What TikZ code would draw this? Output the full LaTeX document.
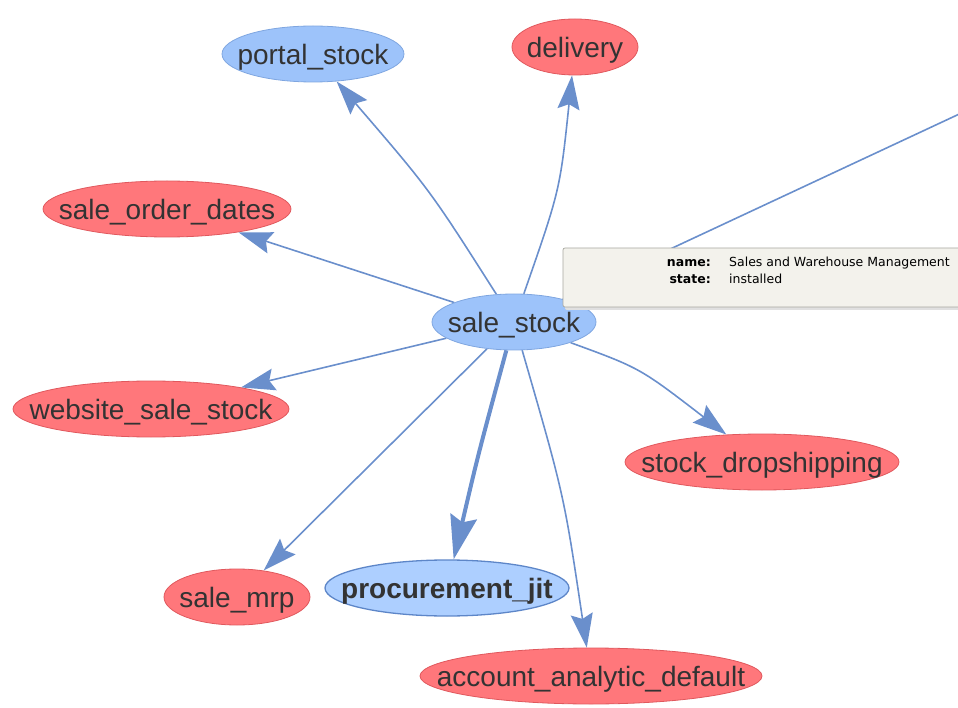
\documentclass[tikz,border=0pt]{standalone}
\usepackage{fontspec}
\setmainfont{Liberation Sans}
\newfontfamily\tipfont{DejaVu Sans}
\usetikzlibrary{shapes.geometric,arrows.meta,backgrounds}
\definecolor{edgec}{HTML}{6A8FCC}
\definecolor{bluef}{HTML}{9DC3FA}
\definecolor{blued}{HTML}{7FA6E0}
\definecolor{redf}{HTML}{FF777B}
\definecolor{redd}{HTML}{E0585D}
\definecolor{hlf}{HTML}{ADCFFF}
\definecolor{hld}{HTML}{5D86C8}
\definecolor{txt}{HTML}{333333}
\definecolor{tipf}{HTML}{F3F2EC}
\definecolor{tipd}{HTML}{A8A8A0}
\newcommand{\lbl}[1]{\raisebox{-10.5pt}[0pt][0pt]{\makebox[0pt][c]{#1}}}
\tikzset{
 mod/.style={ellipse, inner sep=0pt, minimum width=#1, minimum height=56pt, text=txt, font=\fontsize{28}{30}\selectfont},
 inst/.style={mod=#1, fill=bluef, draw=blued, line width=0.8pt},
 uninst/.style={mod=#1, fill=redf, draw=redd, line width=0.8pt},
 hl/.style={mod=#1, fill=hlf, draw=hld, line width=1.3pt, font=\fontsize{28}{30}\selectfont\bfseries},
 dep/.style={draw=edgec, line width=1.6pt, -{Stealth[length=34pt,width=22pt,inset=5pt]}},
 depthick/.style={draw=edgec, line width=4pt, -{Stealth[length=44pt,width=27pt,inset=6pt]}},
 tiplbl/.style={font=\tipfont\fontsize{12.5}{14}\selectfont, text=black, inner sep=0pt},
 tipkey/.style={tiplbl, anchor=base east, font=\tipfont\bfseries\fontsize{12.5}{14}\selectfont},
}
\begin{document}
\begin{tikzpicture}[x=1pt,y=-1pt]
\useasboundingbox (0,0) rectangle (958,708);
\clip (0,0) rectangle (958,708);
% nodes
\node[inst=164] (ss) at (514,322) {\lbl{sale\_stock}};
\node[inst=182] (ps) at (313,54) {\lbl{portal\_stock}};
\node[uninst=126] (dl) at (575,47) {\lbl{delivery}};
\node[uninst=248] (sod) at (167,209) {\lbl{sale\_order\_dates}};
\node[uninst=276] (wss) at (151,409) {\lbl{website\_sale\_stock}};
\node[uninst=274] (sd) at (762,462) {\lbl{stock\_dropshipping}};
\node[uninst=146] (mrp) at (237,597) {\lbl{sale\_mrp}};
\node[hl=244] (jit) at (447,588) {\lbl{procurement\_jit}};
\node[uninst=342] (aad) at (591,676) {\lbl{account\_analytic\_default}};
\coordinate (offr) at (1000,95);
% edges
\begin{scope}[on background layer]
\draw[draw=edgec, line width=1.6pt] (ss) -- (offr);
\draw[dep] (ss) .. controls (430,190) .. (ps);
\draw[dep] (ss) .. controls (560,190) .. (dl);
\draw[dep] (ss) -- (sod);
\draw[dep] (ss) -- (wss);
\draw[dep] (ss) .. controls (640,368) .. (sd);
\draw[dep] (ss) -- (mrp);
\draw[depthick] (ss) .. controls (478,455) .. (jit);
\draw[dep] (ss) .. controls (564,495) .. (aad);
\end{scope}
% tooltip
\fill[black!12, rounded corners=2pt] (565,250) rectangle (960,310);
\draw[fill=tipf, draw=tipd, line width=0.7pt, rounded corners=2pt] (563,248) rectangle (960,307);
\node[tipkey] (tn) at (711,267) {name:};
\node[tiplbl, anchor=base west] (tv) at (729,267) {Sales and Warehouse Management};
\node[tipkey] (sn) at (711,284) {state:};
\node[tiplbl, anchor=base west] (sv) at (729,284) {installed};
\end{tikzpicture}
\end{document}
